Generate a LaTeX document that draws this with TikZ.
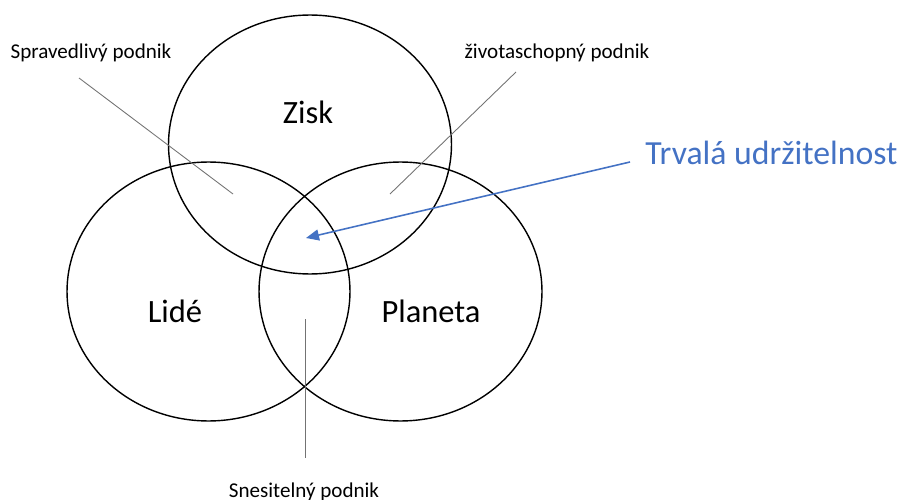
\documentclass[tikz,border=0pt]{standalone}
\usepackage{fontspec}
\setmainfont{Carlito}
\usetikzlibrary{arrows.meta,positioning,shapes.geometric}
\definecolor{trvalablue}{HTML}{4472C4}

\begin{document}
\begin{tikzpicture}[x=0.02cm, y=-0.02cm,
    ring/.style={draw, ellipse, line width=0.8pt, minimum width=5.66cm, minimum height=5.18cm, inner sep=0pt},
    pillar/.style={anchor=base, font=\fontsize{18.5}{22}\selectfont},
    tag/.style={anchor=base, font=\fontsize{12}{14}\selectfont},
    pointer/.style={draw=black!55, line width=0.5pt},
    arrow/.style={-{Triangle[length=2.6mm, width=2.2mm]}, line width=0.9pt, draw=trvalablue, fill=trvalablue}
]
\useasboundingbox (0,0) rectangle (903,500);

% the three pillars
\node[ring] (zisk) at (310,144.5) {};
\node[ring] (lide) at (208.5,291.5) {};
\node[ring] (planeta) at (400.5,291.5) {};
\node[pillar] (ziskt) at (308,124) {Zisk};
\node[pillar] (lidet) at (175,322) {Lidé};
\node[pillar] (planetat) at (431,322) {Planeta};

% labels of the overlaps
\node[tag] (sprav) at (91,59) {Spravedlivý podnik};
\node[tag] (zivot) at (557,59) {životaschopný podnik};
\node[tag] (snes) at (304,497) {Snesitelný podnik};
\node[anchor=base west, text=trvalablue, font=\fontsize{19.2}{23}\selectfont, inner sep=0pt] (trvala) at (645,165) {Trvalá udržitelnost};

\coordinate (spravA) at (79,78);
\coordinate (spravB) at (233,194);
\coordinate (zivotA) at (516,72);
\coordinate (zivotB) at (390,194);
\coordinate (snesA) at (305,319);
\coordinate (snesB) at (305,458);
\coordinate (trvalaA) at (630,162);
\coordinate (stred) at (306,238);

\draw[pointer] (spravA) -- (spravB);
\draw[pointer] (zivotA) -- (zivotB);
\draw[pointer] (snesA) -- (snesB);
\draw[arrow] (trvalaA) -- (stred);
\end{tikzpicture}
\end{document}
